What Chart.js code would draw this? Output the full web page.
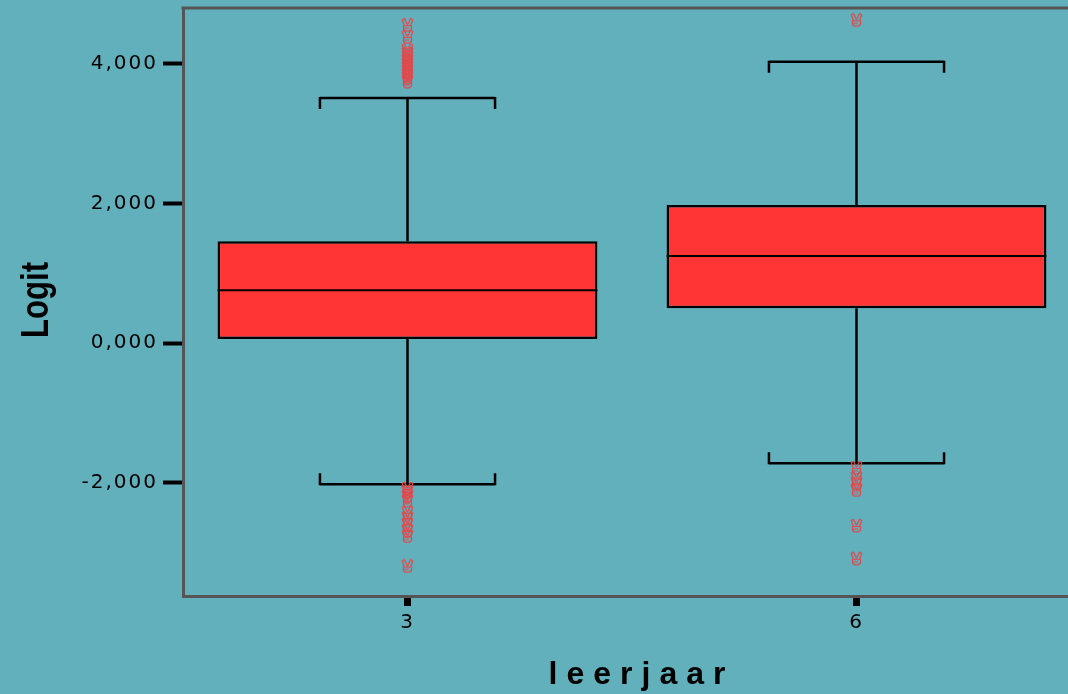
<!DOCTYPE html>
<html>
<head>
<meta charset="utf-8">
<script src="https://cdn.jsdelivr.net/npm/chart.js@4.4.1/dist/chart.umd.min.js"></script>
<style>
  html, body { margin: 0; padding: 0; background: #62b0bb; overflow: hidden; }
  #wrap { width: 1088px; height: 694px; }
</style>
</head>
<body>
<div id="wrap"><canvas id="chart-box"></canvas></div>
<script>
// datos del boxplot
const categorias = ['3', '6'];
const bigoteMin = [-2.02, -1.72];
const cuartil1 = [0.06, 0.50];
const mediana = [0.76, 1.25];
const cuartil3 = [1.46, 1.98];
const bigoteMax = [3.51, 4.03];
const atipicos3 = [4.56, 4.39, 4.20, 4.15, 4.10, 4.05, 4.00, 3.95, 3.90, 3.85, 3.80, 3.75,
  -2.08, -2.13, -2.19, -2.25, -2.42, -2.50, -2.59, -2.68, -2.76, -3.19];
const atipicos6 = [4.63, -1.78, -1.93, -2.00, -2.10, -2.61, -3.08];
const ticksY = [-2, 0, 2, 4];

const fondo = '#62b0bb';

// marcador de los atipicos (mano en V)
const marca = document.createElement('canvas');
marca.width = 13;
marca.height = 15;
const mctx = marca.getContext('2d');
mctx.strokeStyle = '#e4474b';
mctx.lineWidth = 1.2;
mctx.lineJoin = 'round';
mctx.beginPath();
mctx.moveTo(3.5, 8.5); mctx.lineTo(1.2, 2.5); mctx.lineTo(3.5, 1.2); mctx.lineTo(6.5, 7.5);
mctx.moveTo(6.5, 7.5); mctx.lineTo(9.5, 1.2); mctx.lineTo(11.8, 2.5); mctx.lineTo(9.5, 8.5);
mctx.moveTo(2.5, 8.5); mctx.lineTo(10.5, 8.5); mctx.lineTo(10.5, 12); mctx.lineTo(8.5, 13.8);
mctx.lineTo(4, 13.8); mctx.lineTo(2.5, 12); mctx.closePath();
mctx.moveTo(3, 11); mctx.lineTo(8, 11);
mctx.stroke();

const puntosAtipicos = [];
atipicos3.forEach(v => puntosAtipicos.push({ x: categorias[0], y: v }));
atipicos6.forEach(v => puntosAtipicos.push({ x: categorias[1], y: v }));

const sinPadding = (s) => {
  s.paddingTop = 0;
  s.paddingBottom = 0;
  s.paddingLeft = 0;
  s.paddingRight = 0;
};

const pluginCaja = {
  id: 'caja',
  beforeDraw(chart) {
    const c = chart.ctx;
    c.save();
    c.fillStyle = fondo;
    c.fillRect(0, 0, chart.width, chart.height);
    c.restore();
    c.letterSpacing = '2px';
  },
  afterDatasetDraw(chart, args) {
    if (args.index !== 0) return;
    const c = chart.ctx;
    const x = chart.scales.x;
    const y = chart.scales.y;
    const anchoCat = x.getPixelForValue(1) - x.getPixelForValue(0);
    const meta = chart.getDatasetMeta(0);
    c.save();
    c.strokeStyle = '#000';
    categorias.forEach((cat, i) => {
      const cx = x.getPixelForValue(i);
      const medio = anchoCat * 0.195;
      const yMax = y.getPixelForValue(bigoteMax[i]);
      const yMin = y.getPixelForValue(bigoteMin[i]);
      c.lineWidth = 2.5;
      c.beginPath();
      // bigote superior
      c.moveTo(cx, y.getPixelForValue(cuartil3[i]));
      c.lineTo(cx, yMax);
      c.moveTo(cx - medio, yMax);
      c.lineTo(cx + medio, yMax);
      c.moveTo(cx - medio, yMax - 1);
      c.lineTo(cx - medio, yMax + 11);
      c.moveTo(cx + medio, yMax - 1);
      c.lineTo(cx + medio, yMax + 11);
      // bigote inferior
      c.moveTo(cx, y.getPixelForValue(cuartil1[i]));
      c.lineTo(cx, yMin);
      c.moveTo(cx - medio, yMin);
      c.lineTo(cx + medio, yMin);
      c.moveTo(cx - medio, yMin + 1);
      c.lineTo(cx - medio, yMin - 11);
      c.moveTo(cx + medio, yMin + 1);
      c.lineTo(cx + medio, yMin - 11);
      c.stroke();
      // mediana
      const barra = meta.data[i];
      c.lineWidth = 2;
      c.beginPath();
      c.moveTo(barra.x - barra.width / 2, y.getPixelForValue(mediana[i]));
      c.lineTo(barra.x + barra.width / 2, y.getPixelForValue(mediana[i]));
      c.stroke();
    });
    c.restore();
  },
  afterDraw(chart) {
    const c = chart.ctx;
    const area = chart.chartArea;
    c.save();
    // borde superior del area
    c.strokeStyle = '#555';
    c.lineWidth = 3;
    c.beginPath();
    c.moveTo(area.left - 1.5, area.top);
    c.lineTo(area.right, area.top);
    c.stroke();
    // titulo del eje x
    c.letterSpacing = '9px';
    c.fillStyle = '#000';
    c.font = 'bold 32px "Liberation Sans"';
    c.textAlign = 'center';
    c.textBaseline = 'alphabetic';
    c.fillText('leerjaar', 637 + 4.5, 684);
    c.restore();
    // titulo del eje y (condensado)
    c.save();
    c.letterSpacing = '0px';
    c.fillStyle = '#000';
    c.font = 'bold 38px "Liberation Sans"';
    c.textAlign = 'center';
    c.textBaseline = 'middle';
    c.translate(38, 300);
    c.rotate(-Math.PI / 2);
    c.scale(0.82, 1);
    c.fillText('Logit', 0, 0);
    c.restore();
    c.letterSpacing = '0px';
  }
};

new Chart(document.getElementById('chart-box'), {
  type: 'bar',
  data: {
    labels: categorias,
    datasets: [{
      label: 'Logit',
      data: cuartil1.map((q, i) => [q, cuartil3[i]]),
      backgroundColor: '#ff3535',
      borderColor: '#000',
      borderWidth: 2.5,
      borderSkipped: false,
      barPercentage: 0.846,
      categoryPercentage: 1,
      order: 2
    }, {
      type: 'line',
      label: 'Atipicos',
      data: puntosAtipicos,
      showLine: false,
      pointStyle: marca,
      pointRadius: 6,
      order: 1
    }]
  },
  options: {
    responsive: true,
    maintainAspectRatio: false,
    animation: false,
    events: [],
    layout: {
      padding: { left: 0, right: 0, top: 8, bottom: 0 }
    },
    plugins: {
      legend: { display: false },
      tooltip: { enabled: false }
    },
    scales: {
      x: {
        type: 'category',
        offset: true,
        afterFit: (s) => { s.height = 98; sinPadding(s); },
        grid: {
          offset: false,
          drawOnChartArea: false,
          tickLength: 10,
          tickWidth: 7,
          tickColor: '#000'
        },
        border: { color: '#555', width: 3 },
        ticks: {
          color: '#000',
          padding: 5,
          font: { family: 'DejaVu Sans', size: 20 }
        }
      },
      y: {
        min: -3.62,
        max: 4.80,
        afterFit: (s) => { s.width = 183; sinPadding(s); },
        afterBuildTicks: (s) => { s.ticks = ticksY.map(v => ({ value: v })); },
        grid: {
          drawOnChartArea: false,
          tickLength: 20,
          tickWidth: 4,
          tickColor: '#000'
        },
        border: { color: '#555', width: 3 },
        ticks: {
          color: '#000',
          padding: 5,
          font: { family: 'DejaVu Sans', size: 20 },
          callback: (v) => v.toFixed(3).replace('.', ',')
        },
        title: { display: false }
      }
    }
  },
  plugins: [pluginCaja]
});
</script>
</body>
</html>
